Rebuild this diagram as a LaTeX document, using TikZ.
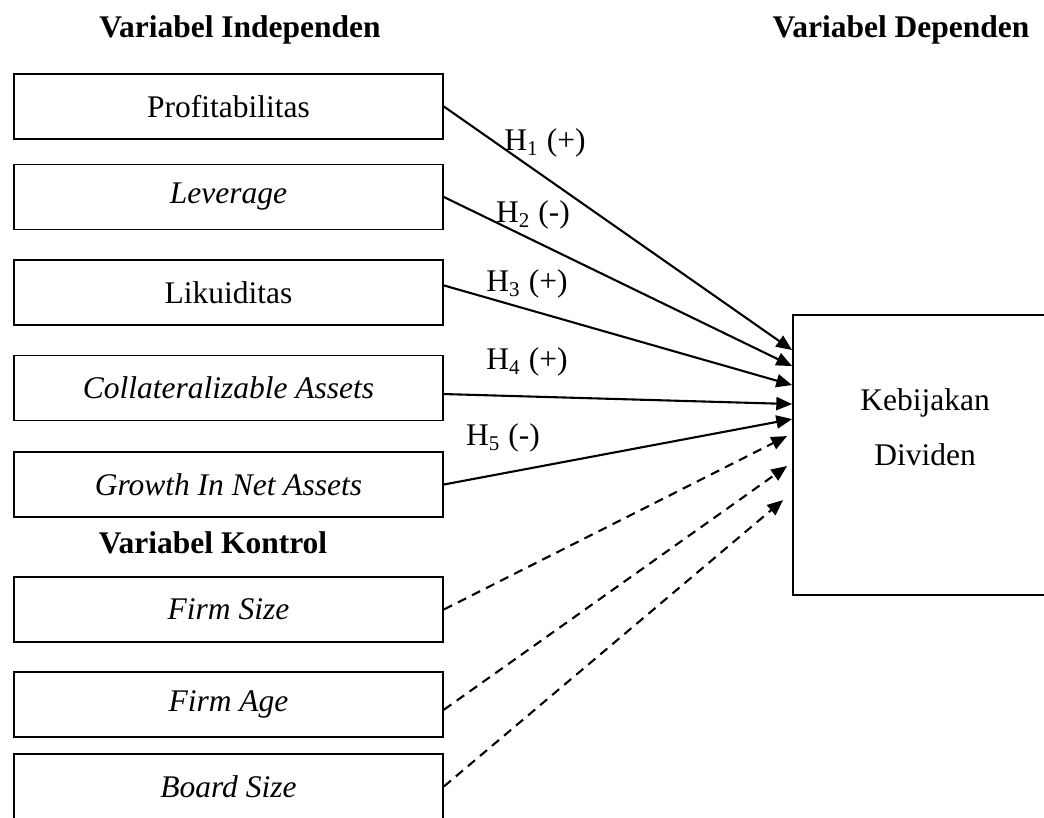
\documentclass[tikz,border=0pt,12pt]{standalone}
\usepackage{fontspec}
\setmainfont{Liberation Serif}
\usetikzlibrary{arrows.meta}

\tikzset{
    varbox/.style={draw, line width=0.7pt, minimum width=163.4pt, minimum height=24.8pt, inner sep=0pt},
    hyp/.style={line width=0.8pt, -{Triangle[length=6pt,width=5pt]}},
    ctrl/.style={hyp, dash pattern=on 3.5pt off 2.5pt},
    head/.style={font=\bfseries},
}

\begin{document}
\begin{tikzpicture}[x=0.381pt, y=-0.381pt]
    \useasboundingbox (0,0) rectangle (1044,817);

    \node [head] (hind) at (240,30) {Variabel Independen};
    \node [head] (hdep) at (901,30) {Variabel Dependen};
    \node [head] (hkon) at (213,543) {Variabel Kontrol};

    \node [varbox] (p1) at (228.5,106.5) {Profitabilitas};
    \node [varbox] (p2) at (228.5,197) {\textit{Leverage}};
    \node [varbox] (p3) at (228.5,292.5) {Likuiditas};
    \node [varbox] (p4) at (228.5,388) {\textit{Collateralizable Assets}};
    \node [varbox] (p5) at (228.5,484.5) {\textit{Growth In Net Assets}};

    \node [varbox] (c1) at (228.5,609.5) {\textit{Firm Size}};
    \node [varbox] (c2) at (228.5,704.5) {\textit{Firm Age}};
    \node [varbox] (c3) at (228.5,786.5) {\textit{Board Size}};

    \node [draw, line width=0.7pt, minimum width=100.6pt, minimum height=106.7pt] (kd) at (925,455) {};
    \node [align=center, font=\fontsize{12}{21}\selectfont] (kdtext) at (925,427) {Kebijakan\\Dividen};

    % titik ujung panah
    \path (kd.north west) ++(0,36) coordinate (t1);
    \path (kd.north west) ++(0,52) coordinate (t2);
    \path (kd.north west) ++(0,71) coordinate (t3);
    \path (kd.north west) ++(0,90) coordinate (t4);
    \path (kd.north west) ++(0,105) coordinate (t5);
    \path (kd.north west) ++(-5,122) coordinate (s1);
    \path (kd.north west) ++(-5,152) coordinate (s2);
    \path (kd.north west) ++(-9,186) coordinate (s3);

    \draw [hyp] (p1.east) -- (t1);
    \draw [hyp] (p2.east) -- (t2);
    \draw [hyp] ([yshift=2.7pt]p3.east) -- (t3);
    \draw [hyp] ([yshift=-2.3pt]p4.east) -- (t4);
    \draw [hyp] (p5.east) -- (t5);

    \draw [ctrl] (c1.east) -- (s1);
    \draw [ctrl] ([yshift=-2pt]c2.east) -- (s2);
    \draw [ctrl] (c3.east) -- (s3);

    \node (h1) at (545,143) {H\textsubscript{1} (+)};
    \node (h2) at (533,215) {H\textsubscript{2} (-)};
    \node (h3) at (527,284) {H\textsubscript{3} (+)};
    \node (h4) at (527,362) {H\textsubscript{4} (+)};
    \node (h5) at (503,438) {H\textsubscript{5} (-)};
\end{tikzpicture}
\end{document}
